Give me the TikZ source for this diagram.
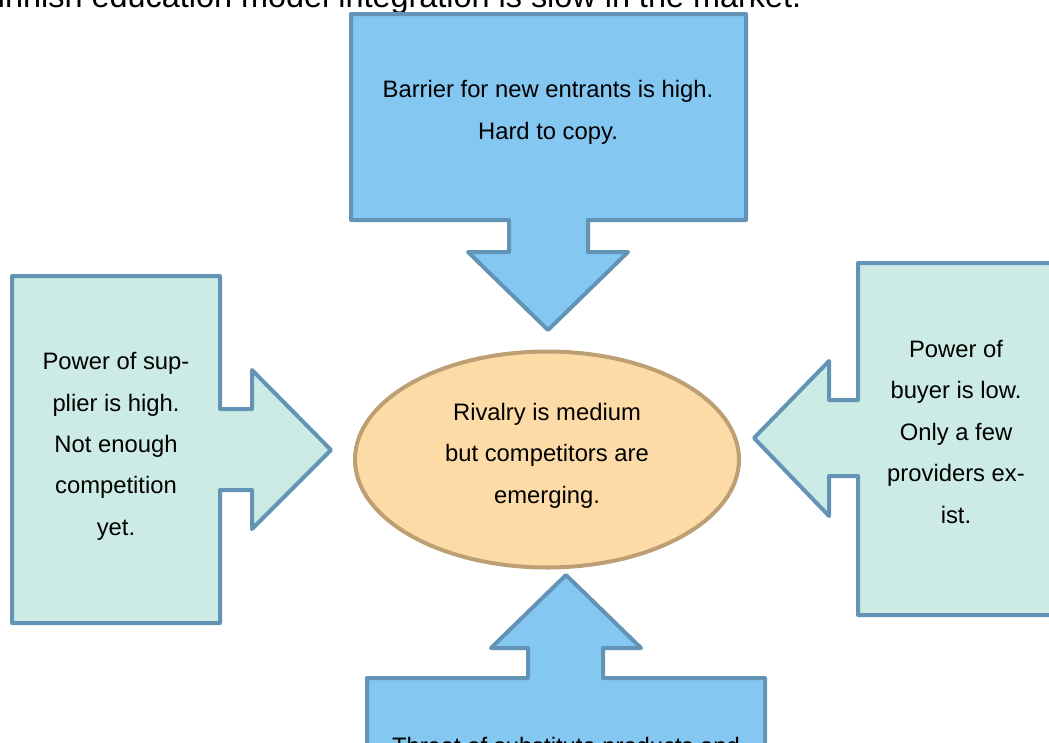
\documentclass[tikz,border=0pt]{standalone}
\usepackage{fontspec}
\setmainfont{Liberation Sans}
\usetikzlibrary{shapes.geometric}
\definecolor{bluefill}{HTML}{84C7F0}
\definecolor{mintfill}{HTML}{CBEBE4}
\definecolor{edgeblue}{HTML}{6394B6}
\definecolor{ovalfill}{HTML}{FDDBA6}
\definecolor{ovaledge}{HTML}{BD9F74}
\begin{document}
\begin{tikzpicture}[x=1pt,y=-1pt,
  bluearrow/.style={fill=bluefill,draw=edgeblue,line width=4pt,line join=round},
  mintarrow/.style={fill=mintfill,draw=edgeblue,line width=4pt,line join=round},
  oval/.style={ellipse,fill=ovalfill,draw=ovaledge,line width=4pt,inner sep=0pt,minimum width=384pt,minimum height=216pt},
  label/.style={align=center,inner sep=0pt,font=\fontsize{23.8}{41.4}\selectfont},
  titletext/.style={inner sep=0pt,font=\fontsize{32.4}{38}\selectfont}]
\useasboundingbox (0,0) rectangle (1049,742);
\clip (0,0) rectangle (1049,742);
% title line (cut off at the top of the frame)
\node[titletext,anchor=base west] (title) at (-22,7) {Finnish education model integration is slow in the market.};
% top arrow
\draw[bluearrow] (351,14) -- (746,14) -- (746,220) -- (588,220) -- (588,252) -- (628,252) -- (548,330) -- (468,252) -- (509,252) -- (509,220) -- (351,220) -- cycle;
% left arrow
\draw[mintarrow] (12,276) -- (220,276) -- (220,409) -- (252,409) -- (252,370) -- (331,450) -- (252,529) -- (252,490) -- (220,490) -- (220,623) -- (12,623) -- cycle;
% right arrow
\draw[mintarrow] (1056,263) -- (858,263) -- (858,400) -- (829,400) -- (829,361) -- (754,438) -- (829,516) -- (829,476) -- (858,476) -- (858,615) -- (1056,615) -- cycle;
% bottom arrow
\draw[bluearrow] (367,800) -- (367,678) -- (528,678) -- (528,648) -- (491,648) -- (566,575) -- (641,648) -- (603,648) -- (603,678) -- (765,678) -- (765,800) -- cycle;
% centre oval
\node[oval] (rivalryshape) at (547,459.5) {};
% texts
\node[label] (entrants) at (548,112.3) {Barrier for new entrants is high.\\Hard to copy.};
\node[label] (rivalry) at (547,455.8) {Rivalry is medium\\but competitors are\\emerging.};
\node[label] (supplier) at (116,446.3) {Power of sup-\\plier is high.\\Not enough\\competition\\yet.};
\node[label] (buyer) at (956,431.8) {Power of\\buyer is low.\\Only a few\\providers ex-\\ist.};
\node[label,anchor=base] (substitutes) at (566,754) {Threat of substitute products and};
\end{tikzpicture}
\end{document}
